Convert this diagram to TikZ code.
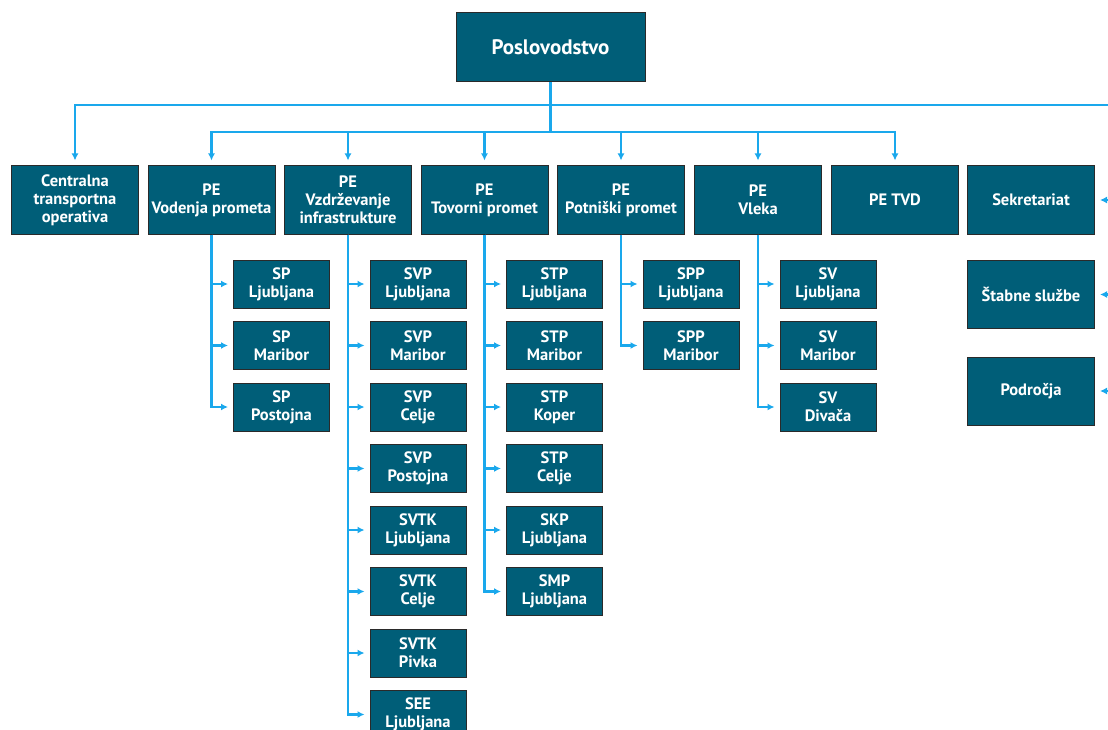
\documentclass[tikz,border=0pt]{standalone}
\usepackage{fontspec}
\setmainfont{PT Sans}
\usetikzlibrary{arrows.meta}
\definecolor{boxteal}{HTML}{005E78}
\definecolor{linkblue}{HTML}{1AA8EC}
\definecolor{boxedge}{HTML}{2A2A2A}
\tikzset{
orgbox/.style={draw=boxedge, line width=1pt, fill=boxteal, text=white, align=center, inner sep=0pt, font=\fontsize{16.5}{18}\selectfont\bfseries},
pebox/.style={orgbox, minimum width=127pt, minimum height=68pt},
subbox/.style={orgbox, minimum width=96pt, minimum height=48pt},
link/.style={draw=linkblue, line width=2.5pt},
linkarr/.style={link, -{Latex[length=7pt,width=7pt]}, shorten >=5pt}
}
\begin{document}
\begin{tikzpicture}[x=1pt,y=-1pt]
\clip (0,0) rectangle (1108,730);
% top
\node[orgbox, minimum width=189pt, minimum height=69pt, font=\fontsize{21}{23}\selectfont\bfseries] (posl) at (550.5,47.5) {Poslovodstvo};
\coordinate (hub) at (550.5,132);
\coordinate (tr) at (1108,105);
% first level
\node[pebox] (cto) at (75,200) {Centralna\\transportna\\operativa};
\node[pebox] (pvp) at (211.5,200) {PE\\Vodenja prometa};
\node[pebox] (pvi) at (348,200) {PE\\Vzdrževanje\\infrastrukture};
\node[pebox] (ptp) at (484.5,200) {PE\\Tovorni promet};
\node[pebox] (ppp) at (621,200) {PE\\Potniški promet};
\node[pebox] (pvl) at (758,200) {PE\\Vleka};
\node[pebox] (ptvd) at (895,200) {PE TVD};
\node[pebox] (sek) at (1031,200) {Sekretariat};
\node[pebox] (stab) at (1031,294.5) {Štabne službe};
\node[pebox] (podr) at (1031,391) {Področja};
% PE Vodenja prometa
\node[subbox] (sp1) at (281.5,284) {SP\\Ljubljana};
\node[subbox] (sp2) at (281.5,345.5) {SP\\Maribor};
\node[subbox] (sp3) at (281.5,407) {SP\\Postojna};
% PE Vzdrzevanje infrastrukture
\node[subbox] (svp1) at (418,284) {SVP\\Ljubljana};
\node[subbox] (svp2) at (418,345.5) {SVP\\Maribor};
\node[subbox] (svp3) at (418,407) {SVP\\Celje};
\node[subbox] (svp4) at (418,468.5) {SVP\\Postojna};
\node[subbox] (svtk1) at (418,530) {SVTK\\Ljubljana};
\node[subbox] (svtk2) at (418,591.5) {SVTK\\Celje};
\node[subbox] (svtk3) at (418,653) {SVTK\\Pivka};
\node[subbox] (see1) at (418,714.5) {SEE\\Ljubljana};
% PE Tovorni promet
\node[subbox] (stp1) at (554.5,284) {STP\\Ljubljana};
\node[subbox] (stp2) at (554.5,345.5) {STP\\Maribor};
\node[subbox] (stp3) at (554.5,407) {STP\\Koper};
\node[subbox] (stp4) at (554.5,468.5) {STP\\Celje};
\node[subbox] (skp1) at (554.5,530) {SKP\\Ljubljana};
\node[subbox] (smp1) at (554.5,591.5) {SMP\\Ljubljana};
% PE Potniski promet
\node[subbox] (spp1) at (691,284) {SPP\\Ljubljana};
\node[subbox] (spp2) at (691,345.5) {SPP\\Maribor};
% PE Vleka
\node[subbox] (sv1) at (828,284) {SV\\Ljubljana};
\node[subbox] (sv2) at (828,345.5) {SV\\Maribor};
\node[subbox] (sv3) at (828,407) {SV\\Divača};
% right side
\coordinate (r1) at (1108,200);
\coordinate (r2) at (1108,294.5);
\coordinate (r3) at (1108,391);
% connectors
\draw[link] (posl) -- (hub);
\draw[linkarr] (tr) -| (cto);
\draw[linkarr] (hub) -| (pvp);
\draw[linkarr] (hub) -| (pvi);
\draw[linkarr] (hub) -| (ptp);
\draw[linkarr] (hub) -| (ppp);
\draw[linkarr] (hub) -| (pvl);
\draw[linkarr] (hub) -| (ptvd);
\draw[linkarr] (r1) -- (sek);
\draw[linkarr] (r2) -- (stab);
\draw[linkarr] (r3) -- (podr);
\draw[linkarr] (pvp) |- (sp1);
\draw[linkarr] (pvp) |- (sp2);
\draw[linkarr] (pvp) |- (sp3);
\draw[linkarr] (pvi) |- (svp1);
\draw[linkarr] (pvi) |- (svp2);
\draw[linkarr] (pvi) |- (svp3);
\draw[linkarr] (pvi) |- (svp4);
\draw[linkarr] (pvi) |- (svtk1);
\draw[linkarr] (pvi) |- (svtk2);
\draw[linkarr] (pvi) |- (svtk3);
\draw[linkarr] (pvi) |- (see1);
\draw[linkarr] (ptp) |- (stp1);
\draw[linkarr] (ptp) |- (stp2);
\draw[linkarr] (ptp) |- (stp3);
\draw[linkarr] (ptp) |- (stp4);
\draw[linkarr] (ptp) |- (skp1);
\draw[linkarr] (ptp) |- (smp1);
\draw[linkarr] (ppp) |- (spp1);
\draw[linkarr] (ppp) |- (spp2);
\draw[linkarr] (pvl) |- (sv1);
\draw[linkarr] (pvl) |- (sv2);
\draw[linkarr] (pvl) |- (sv3);
\end{tikzpicture}
\end{document}
